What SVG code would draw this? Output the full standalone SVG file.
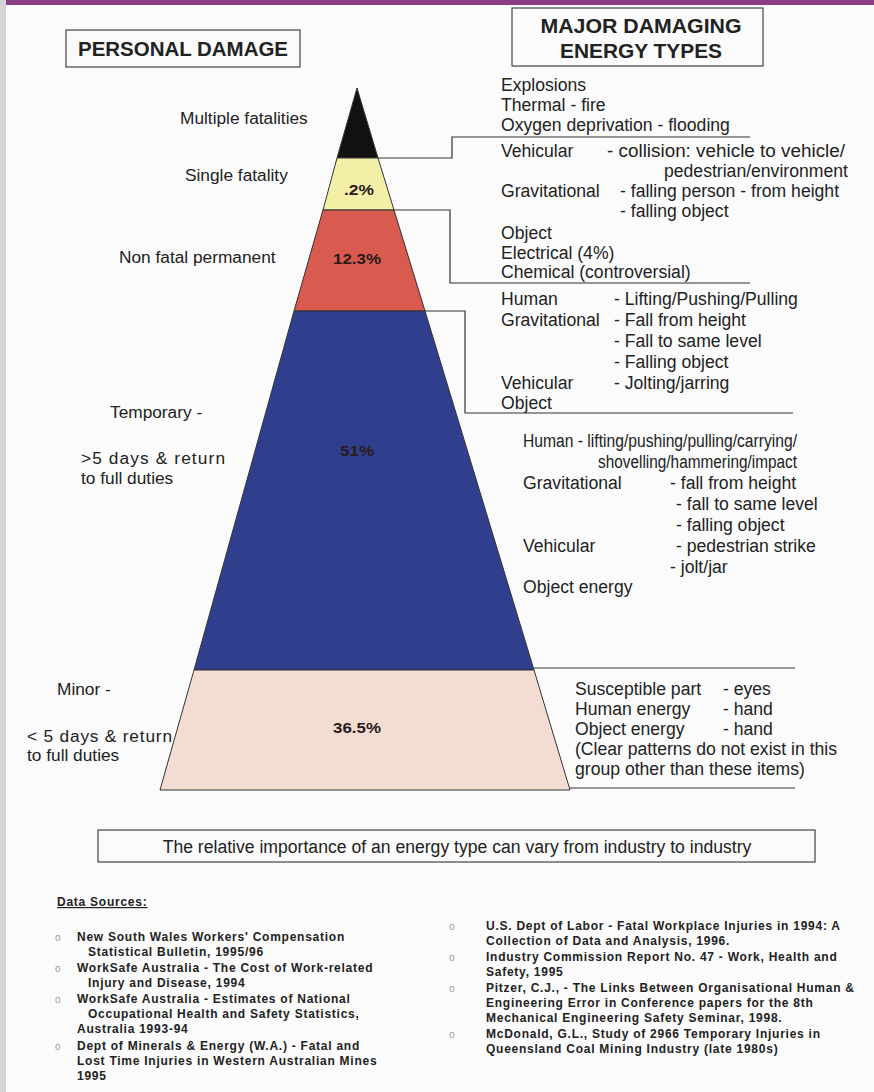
<svg xmlns="http://www.w3.org/2000/svg" width="874" height="1092" viewBox="0 0 874 1092">
<style>
.t{font-family:"Liberation Sans",Arial,sans-serif;font-size:17.3px;fill:#222}
.r{font-family:"Liberation Sans",Arial,sans-serif;font-size:17.6px;fill:#222}
.h{font-family:"Liberation Sans",Arial,sans-serif;font-size:21px;font-weight:bold;fill:#222;text-anchor:middle}
.p{font-family:"Liberation Sans",Arial,sans-serif;font-size:15px;font-weight:bold;fill:#2a1a1a;text-anchor:middle}
.s{font-family:"Liberation Sans",Arial,sans-serif;font-size:12px;font-weight:bold;fill:#222;letter-spacing:0.75px}
.b{font-family:"Liberation Sans",Arial,sans-serif;font-size:10px;fill:#999}
.box{fill:none;stroke:#444;stroke-width:1.2}
.ln{fill:none;stroke:#333;stroke-width:1.2}
.lay{stroke:#333;stroke-width:1}
</style>
<rect width="874" height="1092" fill="#fbfbfb"/>
<rect x="0" y="0" width="874" height="5" fill="#8a3d85"/>
<rect x="0" y="0" width="6" height="1092" fill="#d4d4d4"/>

<g id="title-personal">
<rect class="box" x="66" y="30" width="234" height="37"/>
<text class="h" x="183" y="56" textLength="210" lengthAdjust="spacingAndGlyphs">PERSONAL DAMAGE</text>
</g>
<g id="title-energy">
<rect class="box" x="512" y="8" width="251" height="58"/>
<text class="h" x="641" y="33" textLength="201" lengthAdjust="spacingAndGlyphs">MAJOR DAMAGING</text>
<text class="h" x="641" y="58" textLength="162" lengthAdjust="spacingAndGlyphs">ENERGY TYPES</text>
</g>

<g id="pyramid">
<polygon class="lay" fill="#111111" points="357,88 378,158 337,158"/>
<polygon class="lay" fill="#f4efa6" points="337,158 378,158 394,210 323,210"/>
<polygon class="lay" fill="#d95a4e" points="323,210 394,210 425,311 294,311"/>
<polygon class="lay" fill="#2f3f8e" points="294,311 425,311 534,670 194,670"/>
<polygon class="lay" fill="#f3ddd2" points="194,670 534,670 570,790 160,790"/>
<text class="p" x="359" y="195" textLength="30" lengthAdjust="spacingAndGlyphs">.2%</text>
<text class="p" x="357" y="264" textLength="48" lengthAdjust="spacingAndGlyphs">12.3%</text>
<text class="p" x="357" y="456" fill="#1a1a30" textLength="34" lengthAdjust="spacingAndGlyphs">51%</text>
<text class="p" x="357" y="733" textLength="48" lengthAdjust="spacingAndGlyphs">36.5%</text>
</g>

<g id="left-labels">
<text class="t" x="180" y="124">Multiple fatalities</text>
<text class="t" x="185" y="181">Single fatality</text>
<text class="t" x="119" y="263">Non fatal permanent</text>
<text class="t" x="110" y="418">Temporary -</text>
<text class="t" x="81" y="464" textLength="144" lengthAdjust="spacing">&gt;5 days &amp; return</text>
<text class="t" x="81" y="484">to full duties</text>
<text class="t" x="57" y="695">Minor -</text>
<text class="t" x="27" y="742" textLength="145" lengthAdjust="spacing">&lt; 5 days &amp; return</text>
<text class="t" x="27" y="761">to full duties</text>
</g>

<g id="connectors">
<polyline class="ln" points="378,158 452,158 452,137 750,137"/>
<polyline class="ln" points="394,210 450,210 450,283 750,283"/>
<polyline class="ln" points="425,311 465,311 465,413 793,413"/>
<line class="ln" x1="534" y1="668" x2="795" y2="668"/>
<line class="ln" x1="570" y1="788" x2="795" y2="788"/>
</g>

<g id="energy-fatal">
<text class="r" x="501" y="91">Explosions</text>
<text class="r" x="501" y="111">Thermal - fire</text>
<text class="r" x="501" y="131">Oxygen deprivation - flooding</text>
</g>
<g id="energy-single">
<text class="r" x="501" y="157">Vehicular</text>
<text class="r" x="607" y="157" textLength="238" lengthAdjust="spacingAndGlyphs">- collision: vehicle to vehicle/</text>
<text class="r" x="664" y="177">pedestrian/environment</text>
<text class="r" x="501" y="197">Gravitational</text>
<text class="r" x="620" y="197">- falling person - from height</text>
<text class="r" x="620" y="217">- falling object</text>
<text class="r" x="501" y="239">Object</text>
<text class="r" x="501" y="259">Electrical (4%)</text>
<text class="r" x="501" y="278">Chemical (controversial)</text>
</g>
<g id="energy-permanent">
<text class="r" x="501" y="305">Human</text>
<text class="r" x="614" y="305">- Lifting/Pushing/Pulling</text>
<text class="r" x="501" y="326">Gravitational</text>
<text class="r" x="614" y="326">- Fall from height</text>
<text class="r" x="614" y="347">- Fall to same level</text>
<text class="r" x="614" y="368">- Falling object</text>
<text class="r" x="501" y="389">Vehicular</text>
<text class="r" x="614" y="389">- Jolting/jarring</text>
<text class="r" x="501" y="409">Object</text>
</g>
<g id="energy-temporary">
<text class="r" x="523" y="447" textLength="274" lengthAdjust="spacingAndGlyphs">Human - lifting/pushing/pulling/carrying/</text>
<text class="r" x="598" y="468" textLength="199" lengthAdjust="spacingAndGlyphs">shovelling/hammering/impact</text>
<text class="r" x="523" y="489">Gravitational</text>
<text class="r" x="670" y="489">- fall from height</text>
<text class="r" x="676" y="510">- fall to same level</text>
<text class="r" x="676" y="531">- falling object</text>
<text class="r" x="523" y="552">Vehicular</text>
<text class="r" x="676" y="552">- pedestrian strike</text>
<text class="r" x="670" y="573">- jolt/jar</text>
<text class="r" x="523" y="593">Object energy</text>
</g>
<g id="energy-minor">
<text class="r" x="575" y="695">Susceptible part</text>
<text class="r" x="723" y="695">- eyes</text>
<text class="r" x="575" y="715">Human energy</text>
<text class="r" x="723" y="715">- hand</text>
<text class="r" x="575" y="735">Object energy</text>
<text class="r" x="723" y="735">- hand</text>
<text class="r" x="575" y="755">(Clear patterns do not exist in this</text>
<text class="r" x="575" y="775">group other than these items)</text>
</g>

<g id="note">
<rect class="box" x="98" y="830" width="717" height="32"/>
<text class="r" x="457" y="853" text-anchor="middle">The relative importance of an energy type can vary from industry to industry</text>
</g>

<g id="sources">
<text class="s" x="57" y="906" font-size="11px" letter-spacing="0.5px" text-decoration="underline">Data Sources:</text>
<text class="b" x="55" y="941">o</text>
<text class="s" x="77" y="941">New South Wales Workers' Compensation</text>
<text class="s" x="88" y="956">Statistical Bulletin, 1995/96</text>
<text class="b" x="55" y="972">o</text>
<text class="s" x="77" y="972">WorkSafe Australia - The Cost of Work-related</text>
<text class="s" x="88" y="987">Injury and Disease, 1994</text>
<text class="b" x="55" y="1003">o</text>
<text class="s" x="77" y="1003">WorkSafe Australia - Estimates of National</text>
<text class="s" x="88" y="1018">Occupational Health and Safety Statistics,</text>
<text class="s" x="77" y="1033">Australia 1993-94</text>
<text class="b" x="55" y="1050">o</text>
<text class="s" x="77" y="1050"> Dept of Minerals &amp; Energy (W.A.) - Fatal and</text>
<text class="s" x="77" y="1065">Lost Time Injuries in Western Australian Mines</text>
<text class="s" x="77" y="1080">1995</text>
<text class="b" x="449" y="930">o</text>
<text class="s" x="486" y="930">U.S. Dept of Labor - Fatal Workplace Injuries in 1994: A</text>
<text class="s" x="486" y="945">Collection of Data and Analysis, 1996.</text>
<text class="b" x="449" y="961">o</text>
<text class="s" x="486" y="961">Industry Commission Report No. 47 - Work, Health and</text>
<text class="s" x="486" y="976">Safety, 1995</text>
<text class="b" x="449" y="992">o</text>
<text class="s" x="486" y="992">Pitzer, C.J., - The Links Between Organisational Human &amp;</text>
<text class="s" x="486" y="1007">Engineering Error in Conference papers for the 8th</text>
<text class="s" x="486" y="1022">Mechanical Engineering Safety Seminar, 1998.</text>
<text class="b" x="449" y="1038">o</text>
<text class="s" x="486" y="1038">McDonald, G.L., Study of 2966 Temporary Injuries in</text>
<text class="s" x="486" y="1053">Queensland Coal Mining Industry (late 1980s)</text>
</g>
</svg>
